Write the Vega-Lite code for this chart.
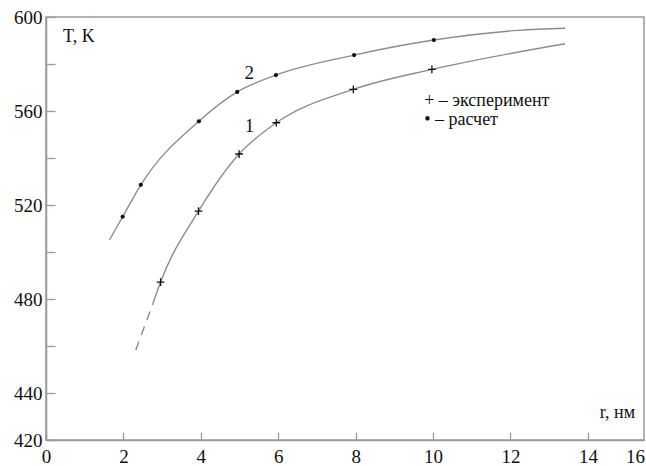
{
  "$schema": "https://vega.github.io/schema/vega-lite/v6.json",
  "width": 598,
  "height": 423,
  "autosize": "none",
  "padding": {"left": 46, "top": 17, "right": 2, "bottom": 26},
  "background": "white",
  "config": {
    "view": {"stroke": "#9a9a9a", "strokeWidth": 1.5},
    "font": "Liberation Serif",
    "axis": {
      "domainColor": "#9a9a9a", "domainWidth": 1.5,
      "tickColor": "#9a9a9a", "tickWidth": 1.3,
      "labelColor": "#111", "labelFont": "Liberation Serif", "labelFontSize": 19,
      "grid": false, "title": null, "labelOverlap": false, "labelFlush": false
    }
  },
  "datasets": {
    "calc": [
      {"r": 1.64, "T": 505.1}, {"r": 1.98, "T": 515.0}, {"r": 2.45, "T": 528.6},
      {"r": 3.95, "T": 555.6}, {"r": 4.94, "T": 568.1}, {"r": 5.94, "T": 575.3},
      {"r": 7.96, "T": 583.8}, {"r": 10.02, "T": 590.2}, {"r": 12.2, "T": 594.3}, {"r": 13.41, "T": 595.2}
    ],
    "calcPts": [
      {"r": 1.98, "T": 515.0}, {"r": 2.45, "T": 528.6}, {"r": 3.95, "T": 555.6},
      {"r": 4.94, "T": 568.1}, {"r": 5.94, "T": 575.3}, {"r": 7.96, "T": 583.8}, {"r": 10.02, "T": 590.2}
    ],
    "exp": [
      {"r": 2.77, "T": 478.4}, {"r": 2.96, "T": 487.2}, {"r": 3.94, "T": 517.4},
      {"r": 4.99, "T": 541.7}, {"r": 5.95, "T": 555.0}, {"r": 7.94, "T": 569.2},
      {"r": 9.97, "T": 577.7}, {"r": 13.41, "T": 588.6}
    ],
    "expPts": [
      {"r": 2.96, "T": 487.2}, {"r": 3.94, "T": 517.4}, {"r": 4.99, "T": 541.7},
      {"r": 5.95, "T": 555.0}, {"r": 7.94, "T": 569.2}, {"r": 9.97, "T": 577.7}
    ],
    "expDash": [
      {"r": 2.32, "T": 458.3}, {"r": 2.77, "T": 478.4}
    ],
    "leftLabels": [
      {"r": 0.44, "T": 589.5, "text": "T, K"},
      {"r": 9.77, "T": 562.1, "text": "+ – эксперимент"},
      {"r": 9.77, "T": 554.0, "text": "• – расчет"}
    ],
    "curveLabels": [
      {"r": 5.25, "T": 573.5, "text": "2"},
      {"r": 5.26, "T": 551.2, "text": "1"}
    ],
    "xlabel": [
      {"r": 15.22, "T": 429.2, "text": "r, нм"}
    ]
  },
  "layer": [
    {
      "data": {"name": "calc"},
      "mark": {"type": "line", "interpolate": "monotone", "color": "#8c8c8c", "strokeWidth": 1.4},
      "encoding": {
        "x": {"field": "r", "type": "quantitative",
          "scale": {"domain": [0, 15.45], "nice": false, "zero": false},
          "axis": {
            "values": [0,1,2,3,4,5,6,7,8,9,10,11,12,13,14,15,15.22],
            "format": "d",
            "labelExpr": "datum.value > 15.1 ? '16' : (datum.value % 2 == 0 ? datum.label : '')",
            "tickSize": -8,
            "labelPadding": 15,
            "tickOpacity": {"condition": {"test": "datum.value > 15.1", "value": 0}, "value": 1}
          }},
        "y": {"field": "T", "type": "quantitative",
          "scale": {"domain": [420, 600], "nice": false, "zero": false},
          "axis": {
            "values": [420,440,460,480,500,520,540,560,580,600],
            "format": "d",
            "labelExpr": "indexof([420,440,480,520,560,600], datum.value) >= 0 ? datum.label : ''",
            "tickSize": -9,
            "labelPadding": 13
          }}
      }
    },
    {
      "data": {"name": "exp"},
      "mark": {"type": "line", "interpolate": "monotone", "color": "#8c8c8c", "strokeWidth": 1.4},
      "encoding": {"x": {"field": "r", "type": "quantitative"}, "y": {"field": "T", "type": "quantitative"}}
    },
    {
      "data": {"name": "expDash"},
      "mark": {"type": "line", "color": "#8c8c8c", "strokeWidth": 1.4, "strokeDash": [9, 7]},
      "encoding": {"x": {"field": "r", "type": "quantitative"}, "y": {"field": "T", "type": "quantitative"}}
    },
    {
      "data": {"name": "calcPts"},
      "mark": {"type": "point", "shape": "circle", "filled": true, "color": "#111", "size": 18, "opacity": 1},
      "encoding": {"x": {"field": "r", "type": "quantitative"}, "y": {"field": "T", "type": "quantitative"}}
    },
    {
      "data": {"name": "expPts"},
      "mark": {"type": "point", "shape": "M-1,0L1,0M0,-1L0,1", "filled": false, "color": "#111", "size": 60, "strokeWidth": 1.3, "opacity": 1},
      "encoding": {"x": {"field": "r", "type": "quantitative"}, "y": {"field": "T", "type": "quantitative"}}
    },
    {
      "data": {"name": "leftLabels"},
      "mark": {"type": "text", "fontSize": 18, "baseline": "alphabetic", "align": "left", "color": "#111", "font": "Liberation Serif"},
      "encoding": {
        "x": {"field": "r", "type": "quantitative"},
        "y": {"field": "T", "type": "quantitative"},
        "text": {"field": "text"}
      }
    },
    {
      "data": {"name": "curveLabels"},
      "mark": {"type": "text", "fontSize": 19, "baseline": "alphabetic", "align": "center", "color": "#111", "font": "Liberation Serif"},
      "encoding": {
        "x": {"field": "r", "type": "quantitative"},
        "y": {"field": "T", "type": "quantitative"},
        "text": {"field": "text"}
      }
    },
    {
      "data": {"name": "xlabel"},
      "mark": {"type": "text", "fontSize": 18, "baseline": "alphabetic", "align": "right", "color": "#111", "font": "Liberation Serif"},
      "encoding": {
        "x": {"field": "r", "type": "quantitative"},
        "y": {"field": "T", "type": "quantitative"},
        "text": {"field": "text"}
      }
    }
  ]
}
